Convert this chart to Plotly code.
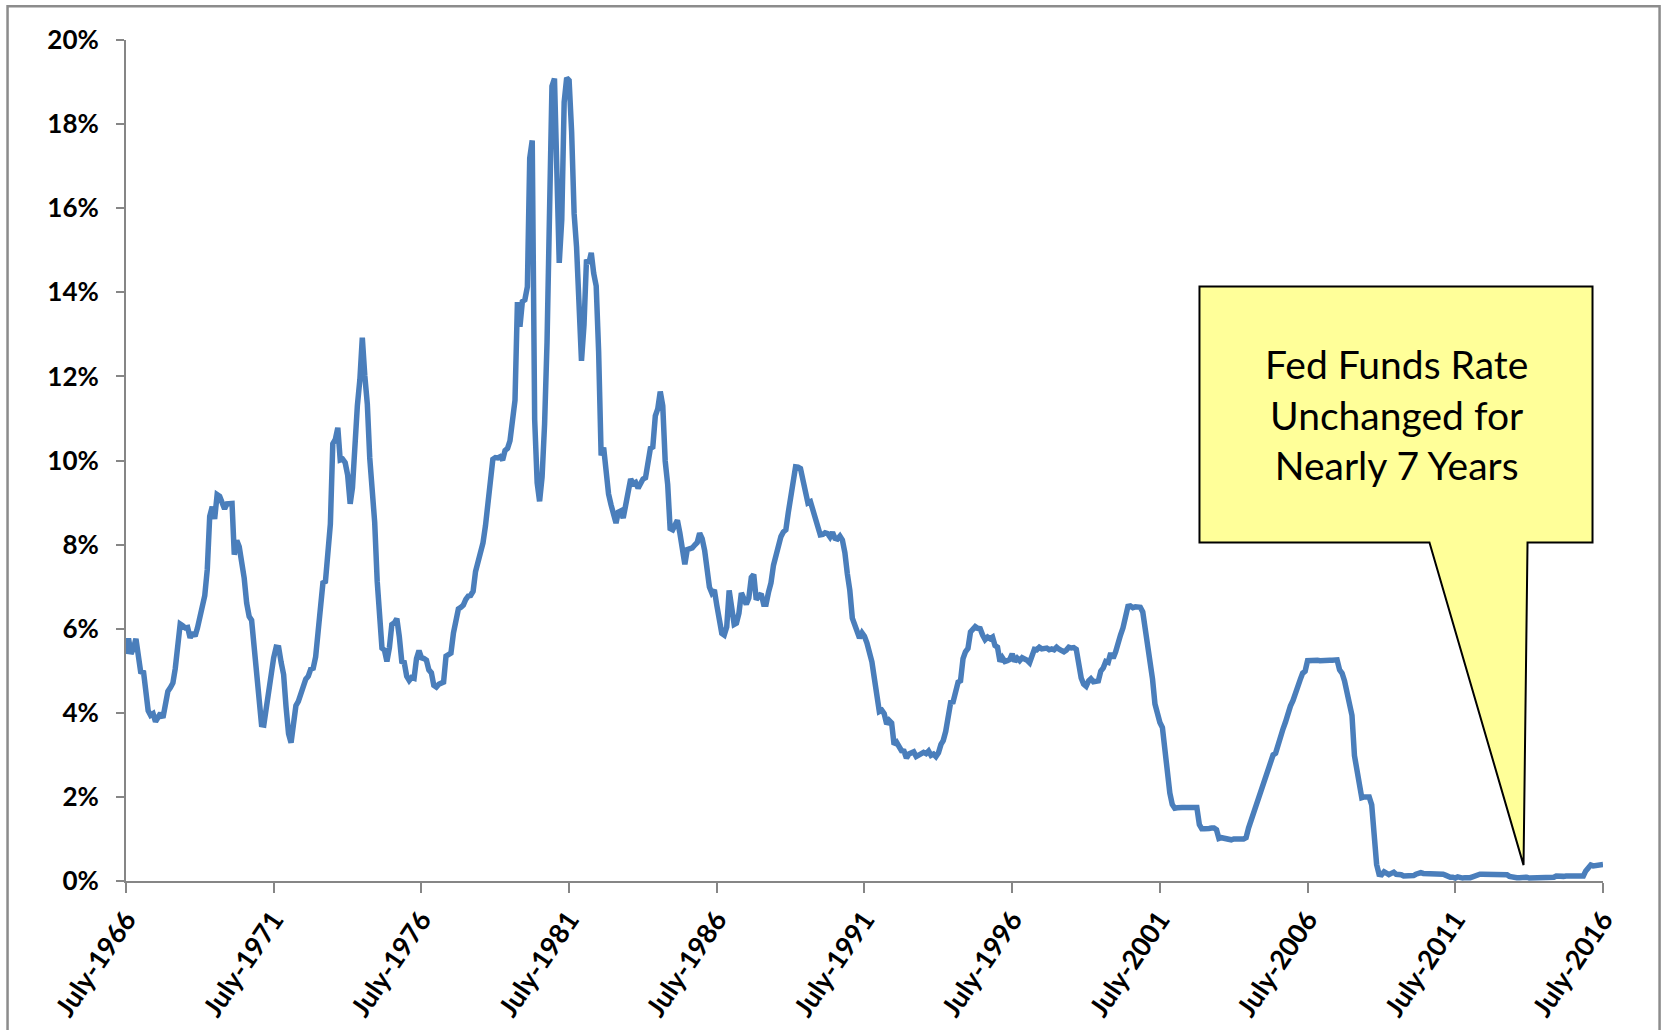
import pandas as pd
import plotly.graph_objects as go

# Effective Fed Funds rate (%), monthly, July 1966 - July 2016
rates_1966_1975 = [
    5.40, 5.77, 5.40, 5.53, 5.76, 5.40,
    4.94, 5.00, 4.53, 4.05, 3.94, 3.98, 3.79, 3.90, 3.99, 3.88, 4.13, 4.51,
    4.60, 4.71, 5.05, 5.76, 6.11, 6.07, 6.02, 6.03, 5.78, 5.91, 5.82, 6.02,
    6.30, 6.64, 6.79, 7.41, 8.67, 8.90, 8.61, 9.19, 9.15, 9.00, 8.85, 8.97,
    8.98, 8.98, 7.76, 8.10, 7.95, 7.61, 7.21, 6.61, 6.29, 6.20, 5.60, 4.90,
    4.14, 3.72, 3.71, 4.16, 4.63, 4.91, 5.31, 5.56, 5.55, 5.20, 4.91, 4.14,
    3.50, 3.29, 3.83, 4.17, 4.27, 4.46, 4.55, 4.80, 4.87, 5.04, 5.06, 5.33,
    5.94, 6.58, 7.09, 7.12, 7.84, 8.49, 10.40, 10.50, 10.78, 10.01, 10.03, 9.95,
    9.65, 8.97, 9.35, 10.51, 11.31, 11.93, 12.92, 12.01, 11.34, 10.06, 9.45, 8.53,
    7.13, 6.24, 5.54, 5.49, 5.22, 5.55, 6.10, 6.14, 6.24, 5.82, 5.22, 5.20,
]
rates_1976_1985 = [
    4.87, 4.77, 4.84, 4.82, 5.29, 5.48, 5.31, 5.29, 5.25, 5.02, 4.95, 4.65,
    4.61, 4.68, 4.69, 4.73, 5.35, 5.39, 5.42, 5.90, 6.14, 6.47, 6.51, 6.56,
    6.70, 6.78, 6.79, 6.89, 7.36, 7.60, 7.81, 8.04, 8.45, 8.96, 9.76, 10.03,
    10.07, 10.06, 10.09, 10.01, 10.24, 10.29, 10.47, 10.94, 11.43, 13.77, 13.18, 13.78,
    13.82, 14.13, 17.19, 17.61, 10.98, 9.47, 9.03, 9.61, 10.87, 12.81, 15.85, 18.90,
    19.08, 15.93, 14.70, 15.72, 18.52, 19.10, 19.04, 17.82, 15.87, 15.08, 13.31, 12.37,
    13.22, 14.78, 14.68, 14.94, 14.45, 14.15, 12.59, 10.12, 10.31, 9.71, 9.20, 8.95,
    8.68, 8.51, 8.77, 8.80, 8.63, 8.98, 9.37, 9.56, 9.45, 9.48, 9.34, 9.47,
    9.56, 9.59, 9.91, 10.29, 10.32, 11.06, 11.23, 11.64, 11.30, 9.99, 9.43, 8.38,
    8.35, 8.50, 8.58, 8.27, 7.97, 7.53, 7.88, 7.90, 7.92, 7.99, 8.05, 8.27,
]
rates_1986_1995 = [
    8.14, 7.86, 7.48, 6.99, 6.85, 6.92, 6.56, 6.17, 5.89, 5.85, 6.04, 6.91,
    6.43, 6.10, 6.13, 6.37, 6.85, 6.73, 6.58, 6.73, 7.22, 7.29, 6.69, 6.77,
    6.83, 6.58, 6.58, 6.87, 7.09, 7.51, 7.75, 8.01, 8.19, 8.30, 8.35, 8.76,
    9.12, 9.36, 9.85, 9.84, 9.81, 9.53, 9.24, 8.99, 9.02, 8.84, 8.55, 8.45,
    8.23, 8.24, 8.28, 8.26, 8.18, 8.29, 8.15, 8.13, 8.20, 8.11, 7.81, 7.31,
    6.91, 6.25, 6.12, 5.91, 5.78, 5.90, 5.82, 5.66, 5.45, 5.21, 4.81, 4.43,
    4.03, 4.06, 3.98, 3.73, 3.82, 3.76, 3.25, 3.30, 3.22, 3.10, 3.09, 2.92,
    3.02, 3.03, 3.07, 2.96, 3.00, 3.04, 3.06, 3.03, 3.09, 2.99, 3.02, 2.96,
    3.05, 3.25, 3.34, 3.56, 4.01, 4.25, 4.26, 4.47, 4.73, 4.76, 5.29, 5.45,
    5.53, 5.92, 5.98, 6.05, 6.01, 6.00, 5.85, 5.74, 5.80, 5.76, 5.80, 5.60,
]
rates_1996_2005 = [
    5.56, 5.22, 5.31, 5.22, 5.24, 5.27, 5.40, 5.22, 5.30, 5.24, 5.31, 5.29,
    5.25, 5.19, 5.39, 5.51, 5.50, 5.56, 5.52, 5.54, 5.54, 5.50, 5.52, 5.50,
    5.56, 5.51, 5.49, 5.45, 5.49, 5.56, 5.54, 5.55, 5.51, 5.07, 4.83, 4.68,
    4.63, 4.76, 4.81, 4.74, 4.74, 4.76, 4.99, 5.07, 5.22, 5.20, 5.42, 5.30,
    5.45, 5.73, 5.85, 6.02, 6.27, 6.53, 6.54, 6.50, 6.52, 6.51, 6.51, 6.40,
    5.98, 5.49, 5.31, 4.80, 4.21, 3.97, 3.77, 3.65, 3.07, 2.49, 2.09, 1.82,
    1.73, 1.74, 1.73, 1.75, 1.75, 1.75, 1.73, 1.74, 1.75, 1.75, 1.34, 1.24,
    1.24, 1.26, 1.25, 1.26, 1.26, 1.22, 1.01, 1.03, 1.01, 1.01, 1.00, 0.98,
    1.00, 1.01, 1.00, 1.00, 1.00, 1.03, 1.26, 1.43, 1.61, 1.76, 1.93, 2.16,
    2.28, 2.50, 2.63, 2.79, 3.00, 3.04, 3.26, 3.50, 3.62, 3.78, 4.00, 4.16,
]
rates_2006_2016 = [
    4.29, 4.49, 4.59, 4.79, 4.94, 4.99, 5.24, 5.25, 5.25, 5.25, 5.25, 5.24,
    5.25, 5.26, 5.26, 5.25, 5.25, 5.25, 5.26, 5.02, 4.94, 4.76, 4.49, 4.24,
    3.94, 2.98, 2.61, 2.28, 1.98, 2.00, 2.01, 2.00, 1.81, 0.97, 0.39, 0.16,
    0.15, 0.22, 0.18, 0.15, 0.18, 0.21, 0.16, 0.16, 0.15, 0.12, 0.12, 0.12,
    0.11, 0.13, 0.16, 0.20, 0.20, 0.18, 0.18, 0.19, 0.19, 0.19, 0.19, 0.18,
    0.17, 0.16, 0.14, 0.10, 0.09, 0.09, 0.07, 0.10, 0.08, 0.07, 0.08, 0.07,
    0.08, 0.10, 0.13, 0.14, 0.16, 0.16, 0.16, 0.13, 0.14, 0.16, 0.16, 0.16,
    0.14, 0.15, 0.14, 0.15, 0.11, 0.09, 0.09, 0.08, 0.08, 0.09, 0.08, 0.09,
    0.07, 0.07, 0.08, 0.09, 0.09, 0.10, 0.09, 0.09, 0.09, 0.09, 0.09, 0.12,
    0.11, 0.11, 0.11, 0.12, 0.12, 0.13, 0.13, 0.14, 0.14, 0.12, 0.12, 0.24,
    0.34, 0.38, 0.36, 0.37, 0.37, 0.38, 0.39,
]
rates = rates_1966_1975 + rates_1976_1985 + rates_1986_1995 + rates_1996_2005 + rates_2006_2016
months = pd.date_range("1966-07-01", periods=len(rates), freq="MS")

x_tick_vals = ["1966-07-01", "1971-07-01", "1976-07-01", "1981-07-01", "1986-07-01",
               "1991-07-01", "1996-07-01", "2001-07-01", "2006-07-01", "2011-07-01", "2016-07-01"]
x_tick_text = ["July-1966", "July-1971", "July-1976", "July-1981", "July-1986",
               "July-1991", "July-1996", "July-2001", "July-2006", "July-2011", "July-2016"]
y_tick_vals = [0, 2, 4, 6, 8, 10, 12, 14, 16, 18, 20]
y_tick_text = ["0%", "2%", "4%", "6%", "8%", "10%", "12%", "14%", "16%", "18%", "20%"]
callout_text = "Fed Funds Rate<br>Unchanged for<br>Nearly 7 Years"

fig = go.Figure()
fig.add_trace(go.Scatter(
    x=months, y=rates, mode="lines",
    line=dict(color="#4A7EBB", width=5.5),
    showlegend=False, hoverinfo="skip",
))

axis_col = "#868686"
x_font = dict(family="Lato, Arial, sans-serif", size=27, color="#000000", weight="bold")
y_font = dict(family="Lato, Arial, sans-serif", size=26, color="#000000", weight="bold")

fig.update_layout(
    width=1665, height=1030,
    margin=dict(l=126.4, r=61.5, t=40.4, b=148.6),
    paper_bgcolor="#FFFFFF", plot_bgcolor="#FFFFFF",
    xaxis=dict(
        type="date", range=["1966-07-01", "2016-07-01"],
        tickvals=x_tick_vals, ticktext=x_tick_text, tickangle=-56,
        showline=True, linecolor=axis_col, linewidth=2,
        ticks="outside", ticklen=10, tickwidth=2, tickcolor=axis_col,
        showgrid=False, zeroline=False, tickfont=x_font, automargin=False,
    ),
    yaxis=dict(
        range=[0, 20], tickvals=y_tick_vals, ticktext=y_tick_text,
        showline=True, linecolor=axis_col, linewidth=2,
        ticks="outside", ticklen=8, tickwidth=2, tickcolor=axis_col,
        showgrid=False, zeroline=False, tickfont=y_font, ticklabelstandoff=12,
        automargin=False,
    ),
)

# outer chart frame
fig.add_shape(type="rect", xref="paper", yref="paper",
              x0=-0.0802, x1=1.0383, y0=-0.25, y1=1.0400,
              line=dict(color="#8C8C8C", width=2.5), fillcolor="rgba(0,0,0,0)", layer="below")

# callout with pointer
fig.add_shape(type="path", xref="paper", yref="paper",
              path="M 0.7268,0.7069 L 0.9929,0.7069 L 0.9929,0.4025 L 0.9489,0.4025 "
                   "L 0.9462,0.0189 L 0.8825,0.4025 L 0.7268,0.4025 Z",
              fillcolor="#FFFF99", line=dict(color="#000000", width=2), layer="above")

fig.add_annotation(xref="paper", yref="paper", x=0.8602, y=0.5545,
                   text=callout_text, showarrow=False, align="center",
                   xanchor="center", yanchor="middle",
                   font=dict(family="Lato, Arial, sans-serif", size=39, color="#000000"))

fig.write_html("out.html")
